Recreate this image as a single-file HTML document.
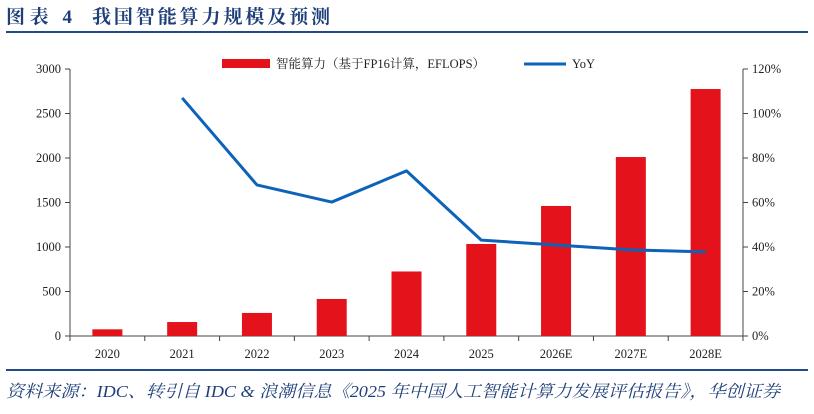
<!DOCTYPE html>
<html><head><meta charset="utf-8"><style>
body{margin:0;width:814px;height:409px;background:#fff;overflow:hidden;font-family:"Liberation Serif","Noto Serif CJK SC",serif}
</style></head><body>
<svg width="814" height="409" xmlns="http://www.w3.org/2000/svg">
<g>
<text x="6" y="23" font-size="19" font-weight="bold" fill="#1f3f7a" textLength="66" lengthAdjust="spacing" font-family="Liberation Serif,Noto Serif CJK SC,serif">图表 4</text>
<text x="92" y="23" font-size="19" font-weight="bold" fill="#1f3f7a" textLength="238" lengthAdjust="spacing" font-family="Liberation Serif,Noto Serif CJK SC,serif">我国智能算力规模及预测</text>
</g>
<line x1="6" y1="32" x2="808" y2="32" stroke="#1f4a8c" stroke-width="2"/>
<line x1="6" y1="370" x2="808" y2="370" stroke="#1f4a8c" stroke-width="2"/>
<text x="6" y="397" font-size="17" font-style="italic" fill="#1f3f7a" textLength="774" lengthAdjust="spacingAndGlyphs">资料来源：IDC、转引自 IDC &amp; 浪潮信息《2025 年中国人工智能计算力发展评估报告》，华创证券</text>
<g id="plot"></g>
<rect x="222" y="59" width="48" height="9" fill="#e3121b"/>
<text x="276" y="68" font-size="12.5" fill="#222">智能算力（基于FP16计算，EFLOPS）</text>
<line x1="524" y1="64" x2="566" y2="64" stroke="#0d63b8" stroke-width="3"/>
<text x="572" y="68" font-size="12.5" fill="#222">YoY</text>
</svg>
<script>
const categories=["2020","2021","2022","2023","2024","2025","2026E","2027E","2028E"];
const compute=[75,157,259,416,725,1034,1461,2011,2775];
const yoy=[null,107,67.9,60.2,74.2,43.1,40.9,38.7,37.8];
const leftTicks=[0,500,1000,1500,2000,2500,3000];
const rightTicks=[0,20,40,60,80,100,120];
const NS="http://www.w3.org/2000/svg";
const g=document.getElementById("plot");
const X0=70,X1=743,Y0=336,Y1=69;
const bw=(X1-X0)/categories.length;
const xc=i=>X0+bw*(i+0.5);
const yL=v=>Y0-(v/3000)*(Y0-Y1);
const yR=v=>Y0-(v/120)*(Y0-Y1);
function mk(t,a){const e=document.createElementNS(NS,t);for(const k in a)e.setAttribute(k,a[k]);g.appendChild(e);return e;}
let e;
e=mk("line",{x1:X0,y1:Y1,x2:X0,y2:Y0,stroke:"#444"});


e=mk("line",{x1:X1,y1:Y1,x2:X1,y2:Y0,stroke:"#444"});


e=mk("line",{x1:X0,y1:Y0,x2:X1,y2:Y0,stroke:"#444"});


leftTicks.forEach(v=>{
 e=mk("line",{x1:X0-5,y1:yL(v),x2:X0,y2:yL(v),stroke:"#444"});
 
 
 e=mk("text",{x:X0-9,y:yL(v)+4,"font-size":12.5,"text-anchor":"end",fill:"#222"});e.textContent=v;
 
 
});
rightTicks.forEach(v=>{
 e=mk("line",{x1:X1,y1:yR(v),x2:X1+5,y2:yR(v),stroke:"#444"});
 
 
 e=mk("text",{x:X1+9,y:yR(v)+4,"font-size":12.5,fill:"#222"});e.textContent=v+"%";
 
 
});
for(let i=0;i<=categories.length;i++){
 e=mk("line",{x1:X0+bw*i,y1:Y0,x2:X0+bw*i,y2:Y0+5,stroke:"#444"});
 
 
}
categories.forEach((c,i)=>{
 e=mk("rect",{x:xc(i)-15,y:yL(compute[i]),width:30,height:Y0-yL(compute[i]),fill:"#e3121b"});
 
 
 e=mk("text",{x:xc(i),y:Y0+22,"font-size":12.5,"text-anchor":"middle",fill:"#222"});e.textContent=c;
 
 
});
const pts=[];yoy.forEach((v,i)=>{if(v!==null)pts.push(xc(i)+","+yR(v));});
e=mk("polyline",{points:pts.join(" "),fill:"none",stroke:"#0d63b8","stroke-width":3,"stroke-linejoin":"round"});


</script>
</body></html>
